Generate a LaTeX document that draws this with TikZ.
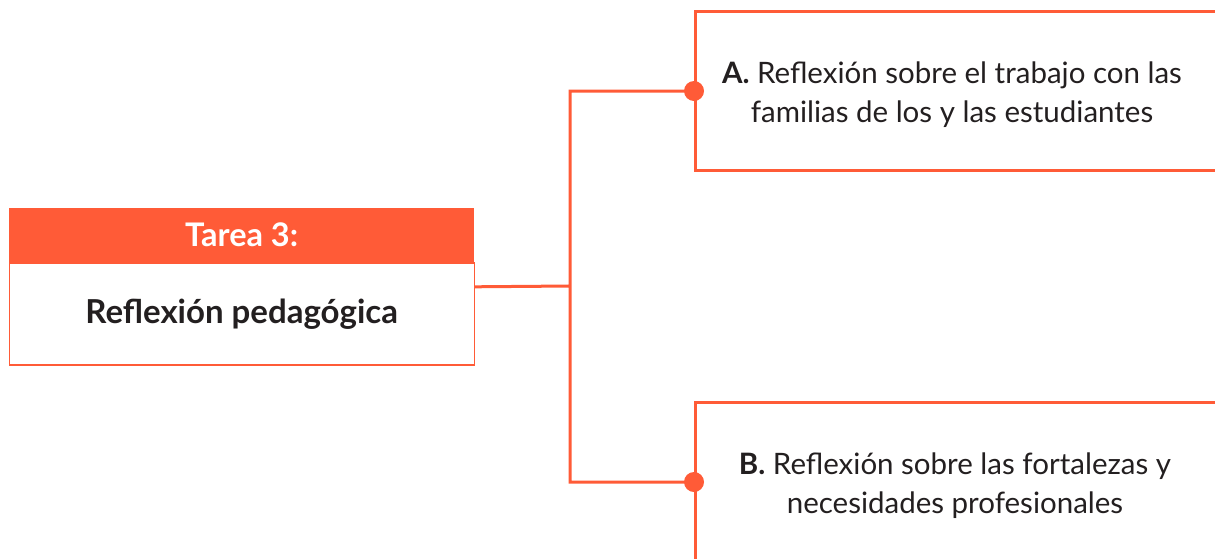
\documentclass[tikz,border=0pt]{standalone}
\usepackage{fontspec}
\setmainfont{Lato}
\usetikzlibrary{positioning, calc}
\definecolor{naranja}{HTML}{FF5B37}
\definecolor{tinta}{HTML}{231F20}

\begin{document}
\begin{tikzpicture}[x=1pt,y=-1pt,
			linea/.style={draw=naranja,line width=3pt},
			caja/.style={draw=naranja,line width=3pt,minimum width=560pt,minimum height=159pt,
				anchor=north west,inner sep=0pt},
			texto/.style={text=tinta,align=center,font=\fontsize{29.5}{39}\selectfont},
			titulo/.style={fill=naranja,text=white,minimum width=465pt,minimum height=54pt,
				anchor=north west,inner sep=0pt,font=\fontsize{32.5}{36}\selectfont\bfseries},
			cuerpo/.style={draw=naranja,line width=1.2pt,minimum width=465pt,minimum height=102pt,
				anchor=north,inner sep=0pt,text=tinta,font=\fontsize{33}{38}\selectfont\bfseries}]
			
			\useasboundingbox (0,0) rectangle (1215,558);
			\clip (0,0) rectangle (1215,558);
			
			% tarea
			\node[titulo] (tarea) at (9,208) {Tarea 3:};
			\node[cuerpo] (reflexion) at (tarea.south) {Reflexión pedagógica};
			
			% cajas de la derecha
			\node[caja] (cajaA) at (694,10) {};
			\node[caja] (cajaB) at (694,401) {};
			\node[texto] (textoA) at (952,95) {\textbf{A.} Reflexión sobre el trabajo con las\\familias de los y las estudiantes};
			\node[texto] (textoB) at (955,486) {\textbf{B.} Reflexión sobre las fortalezas y\\necesidades profesionales};
			
			% conectores
			\coordinate (salida) at ($(tarea.north east)!0.5!(reflexion.south east)$);
			\coordinate (bifurca) at (570,286);
			\path[linea] (salida) -- (bifurca)
			(bifurca) |- (cajaA.west)
			(bifurca) |- (cajaB.west);
			\fill[naranja] (cajaA.west) circle (10pt) (cajaB.west) circle (10pt);
		\end{tikzpicture}
\end{document}
